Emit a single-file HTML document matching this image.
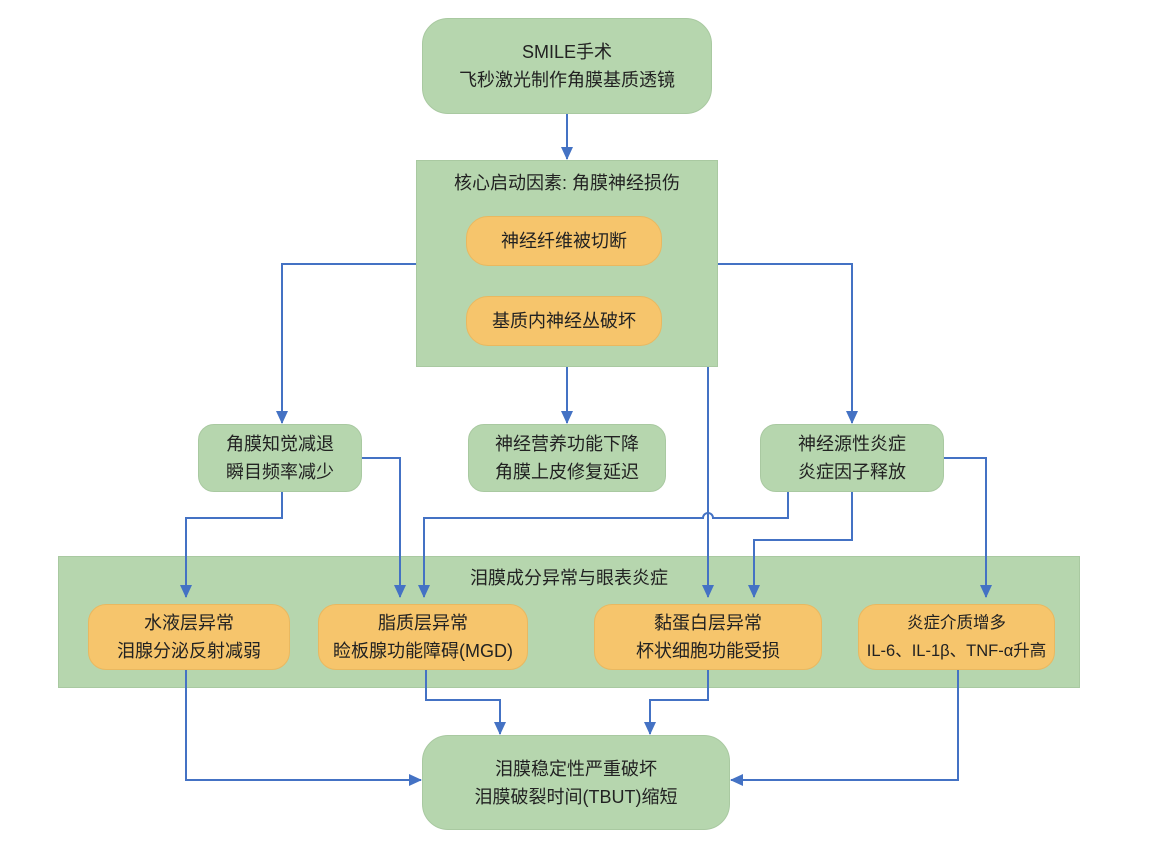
<!DOCTYPE html>
<html><head><meta charset="utf-8"><style>
body{margin:0;width:1152px;height:846px;background:#fff;position:relative;overflow:hidden;font-family:"Liberation Sans","Noto Sans CJK SC",sans-serif;color:#222}
.b{position:absolute;display:flex;flex-direction:column;align-items:center;justify-content:center;text-align:center;font-size:18px;line-height:28px;box-sizing:border-box}
.g{background:#b6d6ae;border:1px solid #a9c9a1}
.o{background:#f6c56c;border:1px solid #e9b860}
svg{position:absolute;left:0;top:0}
</style></head><body>
<div class="b g" style="left:58px;top:556px;width:1022px;height:132px;border-radius:0"></div>
<div class="b g" style="left:416px;top:160px;width:302px;height:207px"></div>
<div class="b" style="left:416px;top:169px;width:302px;height:28px">核心启动因素: 角膜神经损伤</div>
<div class="b" style="left:58px;top:564px;width:1022px;height:28px">泪膜成分异常与眼表炎症</div>
<div class="b g" style="left:422px;top:18px;width:290px;height:96px;border-radius:26px">SMILE手术<br>飞秒激光制作角膜基质透镜</div>
<div class="b o" style="left:466px;top:216px;width:196px;height:50px;border-radius:22px">神经纤维被切断</div>
<div class="b o" style="left:466px;top:296px;width:196px;height:50px;border-radius:22px">基质内神经丛破坏</div>
<div class="b g" style="left:198px;top:424px;width:164px;height:68px;border-radius:16px">角膜知觉减退<br>瞬目频率减少</div>
<div class="b g" style="left:468px;top:424px;width:198px;height:68px;border-radius:16px">神经营养功能下降<br>角膜上皮修复延迟</div>
<div class="b g" style="left:760px;top:424px;width:184px;height:68px;border-radius:16px">神经源性炎症<br>炎症因子释放</div>
<div class="b o" style="left:88px;top:604px;width:202px;height:66px;border-radius:18px">水液层异常<br>泪腺分泌反射减弱</div>
<div class="b o" style="left:318px;top:604px;width:210px;height:66px;border-radius:18px">脂质层异常<br>睑板腺功能障碍(MGD)</div>
<div class="b o" style="left:594px;top:604px;width:228px;height:66px;border-radius:18px">黏蛋白层异常<br>杯状细胞功能受损</div>
<div class="b o" style="left:858px;top:604px;width:197px;height:66px;border-radius:18px;font-size:16.5px">炎症介质增多<br>IL-6、IL-1β、TNF-α升高</div>
<div class="b g" style="left:422px;top:735px;width:308px;height:95px;border-radius:26px">泪膜稳定性严重破坏<br>泪膜破裂时间(TBUT)缩短</div>
<svg width="1152" height="846"><defs><marker id="a" markerWidth="13" markerHeight="12" refX="12" refY="6" orient="auto" markerUnits="userSpaceOnUse"><path d="M0,0L13,6L0,12z" fill="#4472c4"/></marker></defs>
<g fill="none" stroke="#4472c4" stroke-width="2" marker-end="url(#a)">
<path d="M567,114V159"/>
<path d="M416,264H282V423"/>
<path d="M718,264H852V423"/>
<path d="M567,367V423"/>
<path d="M708,367V597"/>
<path d="M282,492V518H186V597"/>
<path d="M362,458H400V597"/>
<path d="M788,492V518H713a5,5 0 0 0 -10,0H424V597"/>
<path d="M852,492V540H754V597"/>
<path d="M944,458H986V597"/>
<path d="M186,670V780H421"/>
<path d="M426,670V700H500V734"/>
<path d="M708,670V700H650V734"/>
<path d="M958,670V780H731"/>
</g></svg>
</body></html>
